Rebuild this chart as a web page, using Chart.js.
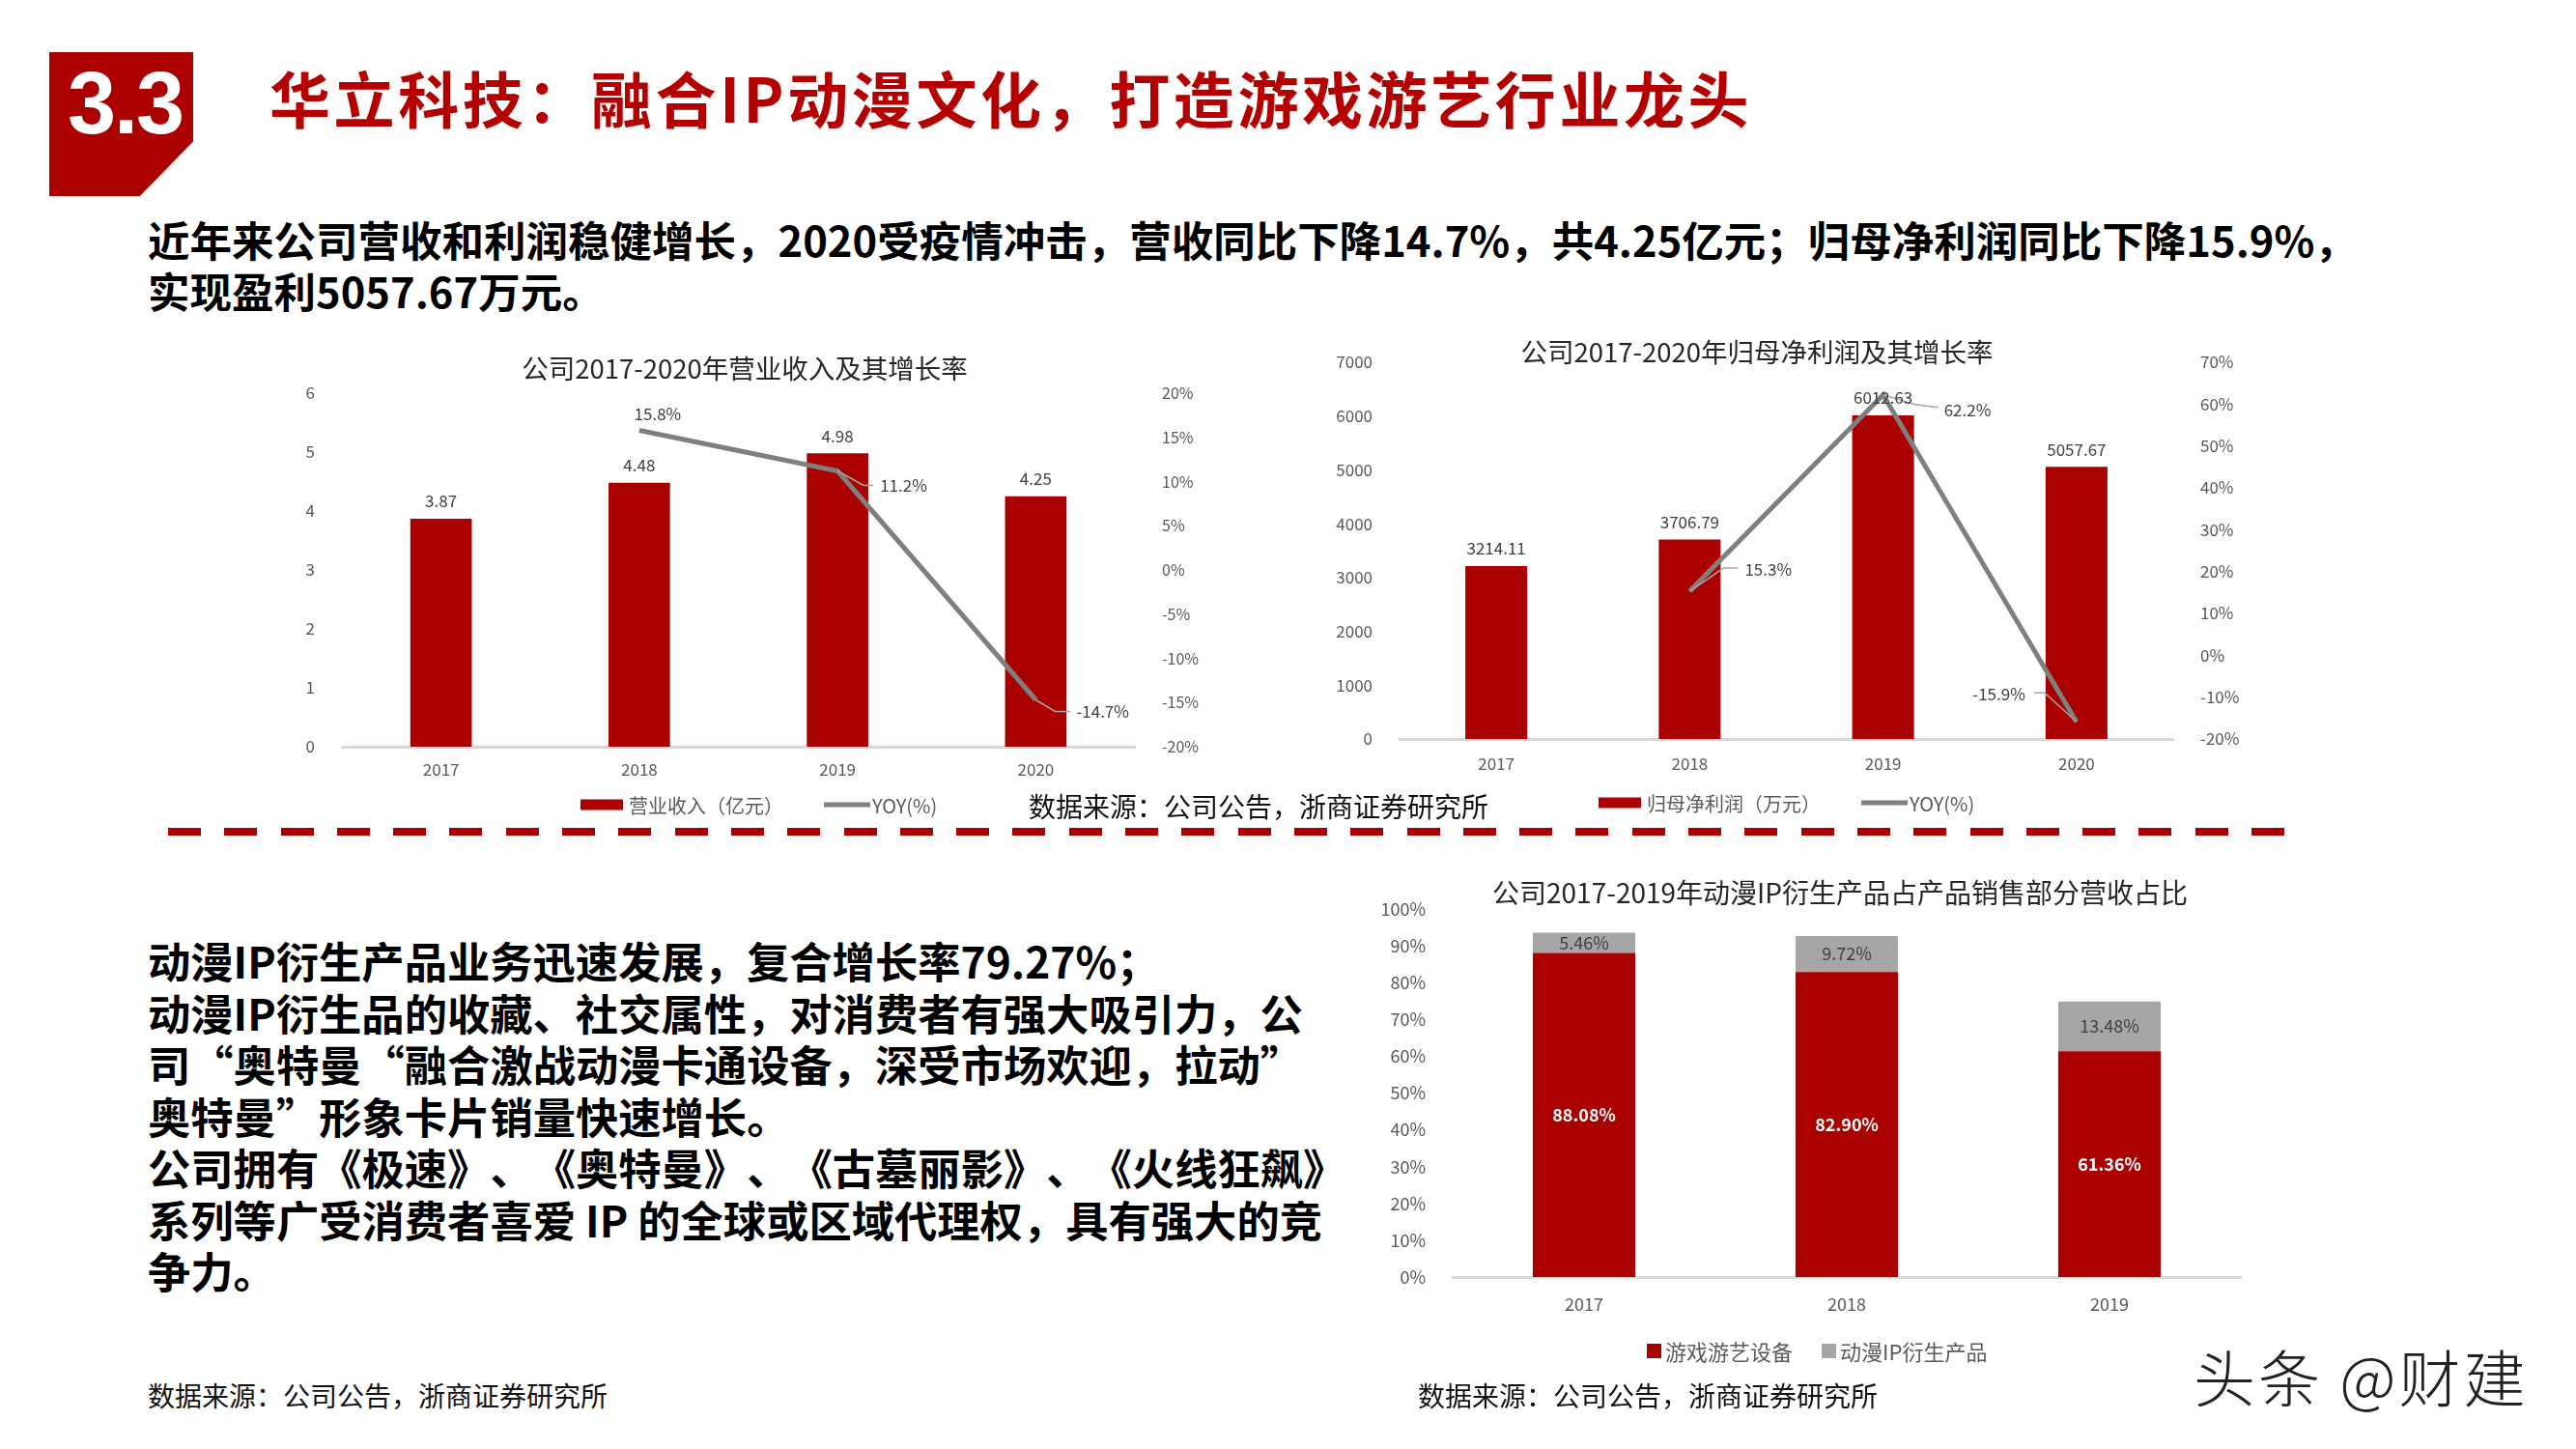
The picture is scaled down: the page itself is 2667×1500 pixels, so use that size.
<!DOCTYPE html>
<html>
<head>
<meta charset="utf-8">
<script src="https://cdn.jsdelivr.net/npm/chart.js@4.4.1/dist/chart.umd.min.js"></script>
<style>
  body { margin: 0; width: 2667px; height: 1500px; background: #fff; position: relative; overflow: hidden;
         font-family: "Noto Sans CJK SC", "Noto Sans", sans-serif; text-spacing-trim: space-all; }
  .abs { position: absolute; white-space: nowrap; }
  .mid { transform: translateY(-50%); }
  canvas { position: absolute; }
  #badge { left: 51px; top: 54px; width: 149px; height: 149px; background: #aa0000;
           clip-path: polygon(0 0, 100% 0, 100% 62%, 63% 100%, 0 100%); }
  #badgeText { left: 70px; top: 107px; color: #fff; font: bold 90px "Liberation Sans", Arial, sans-serif; letter-spacing: -2px; }
  #heading { left: 279px; top: 99px; color: #b40000; font-weight: bold; font-size: 63px; letter-spacing: 3.6px; }
  .intro { left: 153px; font-weight: bold; font-size: 43.5px; color: #000; }
  #para { left: 153px; top: 968px; font-weight: bold; font-size: 44.3px; line-height: 53.5px; color: #000; }
  .ctitle { color: #262626; font-size: 27.5px; transform: translate(-50%, -50%); }
  .source { font-size: 28px; color: #111; }
  .legend { font-size: 20px; color: #595959; display: flex; align-items: center; }
  .swatch { display: inline-block; margin-right: 6px; }
  #dash { left: 174px; top: 857px; width: 2192px; height: 8px;
          background: repeating-linear-gradient(90deg, #aa0000 0 34px, transparent 34px 58.3px); }
  #mark { left: 2271px; top: 1423px; font-size: 64px; color: #222; font-weight: 300; letter-spacing: 3px; }
</style>
</head>
<body>

<div id="badge" class="abs"></div>
<div id="badgeText" class="abs mid">3.3</div>
<div id="heading" class="abs mid">华立科技：融合IP动漫文化，打造游戏游艺行业龙头</div>
<div class="abs mid intro" style="top:247px">近年来公司营收和利润稳健增长，2020受疫情冲击，营收同比下降14.7%，共4.25亿元；归母净利润同比下降15.9%，</div>
<div class="abs mid intro" style="top:300px">实现盈利5057.67万元。</div>

<div id="para" class="abs">动漫IP衍生产品业务迅速发展，复合增长率79.27%；<br>动漫IP衍生品的收藏、社交属性，对消费者有强大吸引力，公<br>司“奥特曼“融合激战动漫卡通设备，深受市场欢迎，拉动”<br>奥特曼”形象卡片销量快速增长。<br>公司拥有《极速》、《奥特曼》、《古墓丽影》、《火线狂飙》<br>系列等广受消费者喜爱 IP 的全球或区域代理权，具有强大的竞<br>争力。</div>

<canvas id="revChart" width="960" height="520" style="left:290px;top:340px"></canvas>
<canvas id="profitChart" width="1050" height="520" style="left:1340px;top:340px"></canvas>
<canvas id="shareChart" width="960" height="560" style="left:1400px;top:880px"></canvas>

<div class="abs ctitle" style="left:771px;top:380px">公司2017-2020年营业收入及其增长率</div>
<div class="abs ctitle" style="left:1819px;top:363px">公司2017-2020年归母净利润及其增长率</div>
<div class="abs ctitle" style="left:1905px;top:923px;font-size:28px">公司2017-2019年动漫IP衍生产品占产品销售部分营收占比</div>

<div id="legRev" class="abs mid legend" style="left:601px;top:833px"></div>
<div id="legProfit" class="abs mid legend" style="left:1655px;top:831px"></div>
<div id="legShare" class="abs mid legend" style="left:1705px;top:1398px;font-size:22px"></div>

<div class="abs mid source" style="left:1065px;top:834px">数据来源：公司公告，浙商证券研究所</div>
<div id="dash" class="abs"></div>
<div class="abs mid source" style="left:153px;top:1444px">数据来源：公司公告，浙商证券研究所</div>
<div class="abs mid source" style="left:1468px;top:1444px">数据来源：公司公告，浙商证券研究所</div>
<div id="mark" class="abs mid">头条 @财建</div>

<script>
// data
const years = ["2017", "2018", "2019", "2020"];
const revenue = [3.87, 4.48, 4.98, 4.25];          // 亿元
const revenueYoy = [null, 15.8, 11.2, -14.7];      // %
const profit = [3214.11, 3706.79, 6012.63, 5057.67]; // 万元
const profitYoy = [null, 15.3, 62.2, -15.9];       // %
const shareYears = ["2017", "2018", "2019"];
const gameShare = [88.08, 82.90, 61.36];           // %
const ipShare = [5.46, 9.72, 13.48];               // %

const RED = "#aa0000";
const GRAY_LINE = "#7f7f7f";
const GRAY_BAR = "#a6a6a6";
const TICK = "#595959";
const FONT = '"Noto Sans CJK SC", "Noto Sans", sans-serif';

Chart.defaults.font.family = FONT;
Chart.defaults.color = TICK;

// draws value labels for bars / lines, with optional leader lines
const valueLabels = {
  id: "valueLabels",
  afterDatasetsDraw(chart) {
    const ctx = chart.ctx;
    chart.data.datasets.forEach((ds, di) => {
      const lab = ds.lbl;
      if (!lab) return;
      const meta = chart.getDatasetMeta(di);
      meta.data.forEach((el, i) => {
        const v = ds.data[i];
        if (v == null) return;
        const p = lab.pos ? lab.pos[i] : null;
        let x = el.x, y = el.y;
        let align = "center";
        if (lab.mode === "top") {
          y = el.y - 18;
        } else if (lab.mode === "middle") {
          y = (el.y + el.base) / 2;
        } else if (p) {
          x = el.x + p.dx; y = el.y + p.dy; align = p.align || "center";
          if (p.lead) {
            ctx.save();
            ctx.strokeStyle = "#a6a6a6";
            ctx.lineWidth = 1.5;
            ctx.beginPath();
            ctx.moveTo(el.x, el.y);
            p.lead.forEach(q => ctx.lineTo(el.x + q[0], el.y + q[1]));
            ctx.stroke();
            ctx.restore();
          }
        }
        ctx.save();
        ctx.font = (lab.bold ? "bold " : "") + lab.size + "px " + FONT;
        ctx.fillStyle = lab.color;
        ctx.textAlign = align;
        ctx.textBaseline = "middle";
        ctx.fillText(lab.fmt(v), x, y);
        ctx.restore();
      });
    });
  }
};

function axisX(size, h, pad) {
  return {
    grid: { display: false },
    border: { color: "#d9d9d9", width: 3 },
    ticks: { color: TICK, font: { size: size }, padding: pad },
    afterFit: s => { s.height = h; }
  };
}
function axisY(pos, min, max, step, w, fmt, size) {
  return {
    position: pos, min: min, max: max,
    grid: { display: false },
    border: { display: false },
    ticks: { stepSize: step, color: TICK, font: { size: size }, padding: 20, callback: fmt },
    afterFit: s => { s.width = w; }
  };
}

// --- 营业收入 ---
const revChart = new Chart(document.getElementById("revChart"), {
  data: {
    labels: years,
    datasets: [
      {
        type: "line", label: "YOY(%)", data: revenueYoy, yAxisID: "y2",
        borderColor: GRAY_LINE, borderWidth: 5, pointRadius: 0, order: 0,
        lbl: {
          size: 17, color: "#404040", fmt: v => v.toFixed(1) + "%",
          pos: [null,
            { dx: 19, dy: -17 },
            { dx: 44, dy: 15, align: "left", lead: [[27, 15], [37, 15]] },
            { dx: 42, dy: 12, align: "left", lead: [[20, 12], [36, 12]] }]
        }
      },
      {
        type: "bar", label: "营业收入（亿元）", data: revenue, yAxisID: "y",
        backgroundColor: RED, barPercentage: 0.31, categoryPercentage: 1, order: 1,
        lbl: { mode: "top", size: 17, color: "#404040", fmt: v => v.toFixed(2) }
      }
    ]
  },
  options: {
    responsive: false, animation: false,
    layout: { padding: { top: 67, bottom: 47, left: 0, right: 0 } },
    plugins: { legend: { display: false }, tooltip: { enabled: false } },
    scales: {
      x: axisX(17, 40, 5),
      y: axisY("left", 0, 6, 1, 64, v => v, 17),
      y2: axisY("right", -20, 20, 5, 75, v => v + "%", 16)
    }
  },
  plugins: [valueLabels]
});

// --- 归母净利润 ---
const profitChart = new Chart(document.getElementById("profitChart"), {
  data: {
    labels: years,
    datasets: [
      {
        type: "line", label: "YOY(%)", data: profitYoy, yAxisID: "y2",
        borderColor: GRAY_LINE, borderWidth: 5, pointRadius: 0, order: 0,
        lbl: {
          size: 17, color: "#404040", fmt: v => v.toFixed(1) + "%",
          pos: [null,
            { dx: 57, dy: -22, align: "left", lead: [[35, -24], [50, -24]] },
            { dx: 63, dy: 16, align: "left", lead: [[33, 10], [57, 13]] },
            { dx: -53, dy: -29, align: "right", lead: [[-33, -30], [-44, -30]] }]
        }
      },
      {
        type: "bar", label: "归母净利润（万元）", data: profit, yAxisID: "y",
        backgroundColor: RED, barPercentage: 0.32, categoryPercentage: 1, order: 1,
        lbl: { mode: "top", size: 17, color: "#404040", fmt: v => v.toFixed(2) }
      }
    ]
  },
  options: {
    responsive: false, animation: false,
    layout: { padding: { top: 35, bottom: 55, left: 0, right: 0 } },
    plugins: { legend: { display: false }, tooltip: { enabled: false } },
    scales: {
      x: axisX(17, 40, 7),
      y: axisY("left", 0, 7000, 1000, 109, v => v, 17),
      y2: axisY("right", -20, 70, 10, 140, v => v + "%", 17)
    }
  },
  plugins: [valueLabels]
});

// --- 动漫IP衍生产品占比 ---
const shareChart = new Chart(document.getElementById("shareChart"), {
  type: "bar",
  data: {
    labels: shareYears,
    datasets: [
      {
        label: "游戏游艺设备", data: gameShare, backgroundColor: RED,
        barPercentage: 0.39, categoryPercentage: 1,
        lbl: { mode: "middle", size: 18, bold: true, color: "#fff", fmt: v => v.toFixed(2) + "%" }
      },
      {
        label: "动漫IP衍生产品", data: ipShare, backgroundColor: GRAY_BAR,
        barPercentage: 0.39, categoryPercentage: 1,
        lbl: { mode: "middle", size: 18, color: "#404040", fmt: v => v.toFixed(2) + "%" }
      }
    ]
  },
  options: {
    responsive: false, animation: false,
    layout: { padding: { top: 61, bottom: 78, left: 0, right: 40 } },
    plugins: { legend: { display: false }, tooltip: { enabled: false } },
    scales: {
      x: Object.assign(axisX(18, 40, 9), { stacked: true }),
      y: Object.assign(axisY("left", 0, 100, 10, 104, v => v + "%", 18), { stacked: true })
    }
  },
  plugins: [valueLabels]
});

// html legends built from the datasets
function buildLegend(id, chart, sq) {
  const box = document.getElementById(id);
  const sets = chart.data.datasets.slice().sort((a, b) => (a.type === "line") - (b.type === "line"));
  sets.forEach(ds => {
    const item = document.createElement("span");
    item.style.display = "inline-flex";
    item.style.alignItems = "center";
    item.style.marginRight = sq ? "30px" : "42px";
    const sw = document.createElement("span");
    sw.className = "swatch";
    if (sq) {
      sw.style.width = "15px"; sw.style.height = "15px"; sw.style.background = ds.backgroundColor;
      sw.style.marginRight = "4px";
    } else if (ds.type === "line") {
      sw.style.width = "48px"; sw.style.height = "5px"; sw.style.background = ds.borderColor;
      sw.style.marginRight = "2px";
    } else {
      sw.style.width = "44px"; sw.style.height = "11px"; sw.style.background = ds.backgroundColor;
    }
    item.appendChild(sw);
    item.appendChild(document.createTextNode(ds.label));
    box.appendChild(item);
  });
}
buildLegend("legRev", revChart, false);
buildLegend("legProfit", profitChart, false);
buildLegend("legShare", shareChart, true);
</script>
</body>
</html>
